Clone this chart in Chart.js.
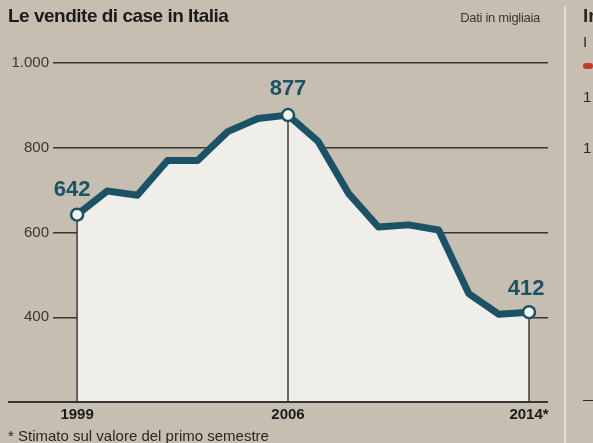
<!DOCTYPE html>
<html>
<head>
<meta charset="utf-8">
<script src="https://cdn.jsdelivr.net/npm/chart.js@4"></script>
<style>
  html, body { margin: 0; padding: 0; }
  body { width: 593px; height: 443px; overflow: hidden; background: #c5beb1; position: relative; font-family: "Liberation Sans Narrow", "Liberation Sans", sans-serif; }
  #wrap { position: absolute; left: 0; top: 0; width: 593px; height: 443px; }
  .title { position: absolute; left: 8px; top: 5px; font-size: 19px; font-weight: bold; color: #1b1b1b; letter-spacing: -0.5px; }
  .unit { position: absolute; right: 53px; top: 10px; font-size: 13px; color: #3a3631; letter-spacing: -0.3px; }
  .note { position: absolute; left: 8px; top: 427px; font-size: 15px; color: #2a2724; white-space: nowrap; }
  .sep { position: absolute; left: 564px; top: 6px; width: 2px; height: 437px; background: #e2ddd4; }
  .side { position: absolute; left: 583px; font-size: 15px; color: #2a2724; white-space: nowrap; }
  .dot { position: absolute; left: 583px; top: 63px; width: 10px; height: 6px; border-radius: 3px; background: #c23a2e; }
</style>
</head>
<body>
<div id="wrap"><canvas id="salesChart" width="593" height="443"></canvas></div>
<div class="title">Le vendite di case in Italia</div>
<div class="unit">Dati in migliaia</div>
<div class="note">* Stimato sul valore del primo semestre</div>
<div class="sep"></div>
<div class="side" style="top:5px;font-weight:bold;font-size:19px;">In</div>
<div class="side" style="top:33px;">I</div>
<div class="dot"></div>
<div class="side" style="top:88px;">1</div>
<div class="side" style="top:139px;">1</div>
<div class="side" style="top:390px;">—</div>
<script>
const years = [1999, 2000, 2001, 2002, 2003, 2004, 2005, 2006, 2007, 2008, 2009, 2010, 2011, 2012, 2013, 2014];
const sales = [642, 698, 688, 770, 770, 838, 869, 877, 815, 693, 613, 618, 606, 456, 407, 412];
const labelledYears = [1999, 2006, 2014];
const yTicks = [400, 600, 800, 1000];
const xTickLabels = { 1999: '1999', 2006: '2006', 2014: '2014*' };

const lineColor = '#1d5266';

// vertical rules under marked points, baseline and value labels
const extrasPlugin = {
  id: 'extras',
  afterDatasetsDraw(chart) {
    const { ctx, chartArea, scales } = chart;
    ctx.save();
    ctx.lineWidth = 1.5;
    ctx.strokeStyle = '#3f3b36';
    labelledYears.forEach(yr => {
      const i = years.indexOf(yr);
      const x = scales.x.getPixelForValue(yr);
      const y = scales.y.getPixelForValue(sales[i]);
      ctx.beginPath();
      ctx.moveTo(x, y + 7);
      ctx.lineTo(x, chartArea.bottom);
      ctx.stroke();
    });

    ctx.strokeStyle = '#3b3530';
    ctx.lineWidth = 2;
    ctx.beginPath();
    ctx.moveTo(8, chartArea.bottom);
    ctx.lineTo(chartArea.right, chartArea.bottom);
    ctx.stroke();

    ctx.fillStyle = lineColor;
    ctx.font = 'bold 22px "Liberation Sans", sans-serif';
    ctx.textAlign = 'center';
    ctx.textBaseline = 'alphabetic';
    const offsets = { 1999: [-5, -19], 2006: [0, -20], 2014: [-3, -17] };
    labelledYears.forEach(yr => {
      const i = years.indexOf(yr);
      const x = scales.x.getPixelForValue(yr);
      const y = scales.y.getPixelForValue(sales[i]);
      ctx.fillText(String(sales[i]), x + offsets[yr][0], y + offsets[yr][1]);
    });
    ctx.restore();
  }
};

new Chart(document.getElementById('salesChart'), {
  type: 'line',
  data: {
    labels: years,
    datasets: [{
      data: years.map((y, i) => ({ x: y, y: sales[i] })),
      borderColor: lineColor,
      borderWidth: 7,
      borderJoinStyle: 'round',
      fill: 'start',
      backgroundColor: '#efeeeb',
      tension: 0,
      pointRadius: years.map(y => labelledYears.includes(y) ? 6 : 0),
      pointBackgroundColor: '#f4f4f2',
      pointBorderColor: lineColor,
      pointBorderWidth: 2.5
    }]
  },
  options: {
    responsive: false,
    animation: false,
    layout: { padding: { left: 0, top: 63, right: 45, bottom: 0 } },
    plugins: { legend: { display: false }, tooltip: { enabled: false } },
    scales: {
      x: {
        type: 'linear',
        min: 1998.2,
        max: 2014.63,
        afterBuildTicks: s => { s.ticks = labelledYears.map(v => ({ value: v })); },
        afterFit: s => { s.height = 41; },
        grid: { display: false, drawTicks: false },
        border: { display: false },
        ticks: {
          color: '#1b1b1b',
          padding: 4,
          maxRotation: 0,
          font: { family: '"Liberation Sans", sans-serif', weight: 'bold', size: 15 },
          callback: v => xTickLabels[v]
        }
      },
      y: {
        min: 200,
        max: 1000,
        afterBuildTicks: s => { s.ticks = yTicks.map(v => ({ value: v })); },
        afterFit: s => { s.width = 53; },
        grid: { color: '#3b3530', lineWidth: 1.5, drawTicks: false },
        border: { display: false },
        ticks: {
          color: '#3a3631',
          padding: 4,
          font: { family: '"Liberation Sans", sans-serif', size: 15 },
          callback: v => v === 1000 ? '1.000' : String(v)
        }
      }
    }
  },
  plugins: [extrasPlugin]
});
</script>
</body>
</html>
